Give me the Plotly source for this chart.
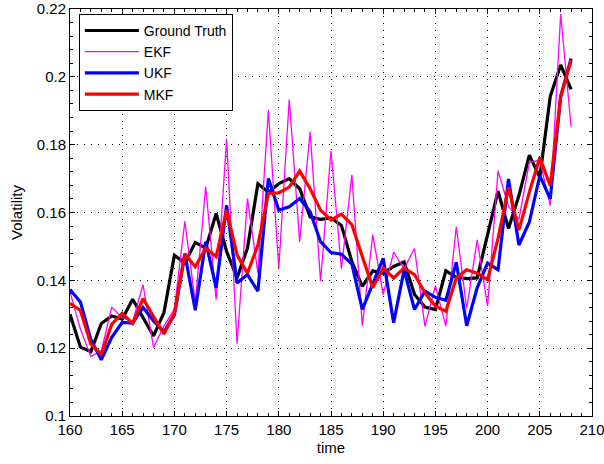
import plotly.graph_objects as go

# Time steps
time = list(range(160, 209))

ground_truth = [
    0.1300, 0.1203, 0.1190, 0.1273, 0.1295, 0.1286, 0.1344, 0.1290, 0.1236, 0.1305,
    0.1474, 0.1451, 0.1512, 0.1495, 0.1597, 0.1485, 0.1407, 0.1495, 0.1685, 0.1660,
    0.1685, 0.1700, 0.1670, 0.1587, 0.1580, 0.1584, 0.1562, 0.1455, 0.1382, 0.1428,
    0.1421, 0.1441, 0.1454, 0.1358, 0.1321, 0.1314, 0.1428, 0.1409, 0.1405, 0.1407,
    0.1533, 0.1663, 0.1553, 0.1650, 0.1769, 0.1704, 0.1942, 0.2035, 0.1963,
]

ekf = [
    0.1366, 0.1256, 0.1175, 0.1192, 0.1321, 0.1290, 0.1278, 0.1387, 0.1202, 0.1265,
    0.1315, 0.1574, 0.1335, 0.1676, 0.1343, 0.1817, 0.1213, 0.1641, 0.1421, 0.1902,
    0.1436, 0.1933, 0.1514, 0.1838, 0.1397, 0.1782, 0.1434, 0.1711, 0.1266, 0.1535,
    0.1358, 0.1483, 0.1434, 0.1494, 0.1264, 0.1384, 0.1265, 0.1558, 0.1317, 0.1519,
    0.1324, 0.1723, 0.1618, 0.1580, 0.1748, 0.1754, 0.1620, 0.2185, 0.1853,
]

ukf = [
    0.1373, 0.1336, 0.1225, 0.1166, 0.1232, 0.1276, 0.1274, 0.1320, 0.1280, 0.1248,
    0.1298, 0.1478, 0.1312, 0.1514, 0.1378, 0.1621, 0.1392, 0.1417, 0.1368, 0.1700,
    0.1607, 0.1617, 0.1641, 0.1602, 0.1514, 0.1482, 0.1477, 0.1448, 0.1314, 0.1392,
    0.1465, 0.1275, 0.1431, 0.1314, 0.1368, 0.1350, 0.1341, 0.1453, 0.1266, 0.1378,
    0.1451, 0.1431, 0.1699, 0.1504, 0.1572, 0.1709, 0.1640, 0.1942, 0.2054,
]

mkf = [
    0.1332, 0.1311, 0.1212, 0.1182, 0.1270, 0.1303, 0.1273, 0.1346, 0.1293, 0.1242,
    0.1303, 0.1478, 0.1440, 0.1495, 0.1470, 0.1607, 0.1475, 0.1421, 0.1504, 0.1656,
    0.1658, 0.1675, 0.1722, 0.1670, 0.1607, 0.1578, 0.1595, 0.1564, 0.1470, 0.1378,
    0.1436, 0.1407, 0.1436, 0.1417, 0.1363, 0.1324, 0.1309, 0.1407, 0.1431, 0.1421,
    0.1402, 0.1524, 0.1674, 0.1548, 0.1660, 0.1762, 0.1679, 0.1942, 0.2049,
]

x_ticks = [160, 165, 170, 175, 180, 185, 190, 195, 200, 205, 210]
y_ticks = [0.1, 0.12, 0.14, 0.16, 0.18, 0.2, 0.22]
y_tick_text = ["0.1", "0.12", "0.14", "0.16", "0.18", "0.2", "0.22"]

FONT = "Liberation Sans, Arial, Helvetica, sans-serif"

series = [
    ("Ground Truth", ground_truth, "#000000", 3.2),
    ("EKF", ekf, "#ff00ff", 1.3),
    ("UKF", ukf, "#0000ff", 3.2),
    ("MKF", mkf, "#ff0000", 3.2),
]

fig = go.Figure()
for name, values, color, width in series:
    fig.add_trace(go.Scatter(
        x=time, y=values, mode="lines", name=name,
        line=dict(color=color, width=width),
    ))

axis_common = dict(
    showline=True, linecolor="black", linewidth=1, mirror="allticks",
    ticks="inside", ticklen=5, tickcolor="black", tickwidth=1,
    showgrid=True, gridcolor="black", gridwidth=1, griddash="1px,6px",
    zeroline=False, ticklabeloverflow="allow", automargin=False,
    tickfont=dict(family=FONT, size=15, color="black"),
)

fig.update_xaxes(
    range=[160, 210], tickvals=x_ticks,
    minor=dict(dtick=1, tick0=160, ticks="inside", ticklen=3, tickcolor="black", showgrid=False),
    title=dict(text="time", font=dict(family=FONT, size=15, color="black"), standoff=5),
    **axis_common,
)
fig.update_yaxes(
    range=[0.1, 0.22], tickvals=y_ticks, ticktext=y_tick_text,
    minor=dict(dtick=0.004, tick0=0.1, ticks="inside", ticklen=3, tickcolor="black", showgrid=False),
    title=dict(text="Volatility", font=dict(family=FONT, size=15, color="black"), standoff=10),
    **axis_common,
)

fig.update_layout(
    width=604, height=464,
    margin=dict(l=70, r=12, t=9, b=48),
    plot_bgcolor="white", paper_bgcolor="white",
    font=dict(family=FONT, size=15, color="black"),
    legend=dict(
        x=0.017, y=0.988, xanchor="left", yanchor="top",
        bgcolor="white", bordercolor="black", borderwidth=1,
        font=dict(family=FONT, size=14, color="black"),
        tracegroupgap=0, itemwidth=54,
    ),
    showlegend=True,
)

fig.write_html("out.html")
